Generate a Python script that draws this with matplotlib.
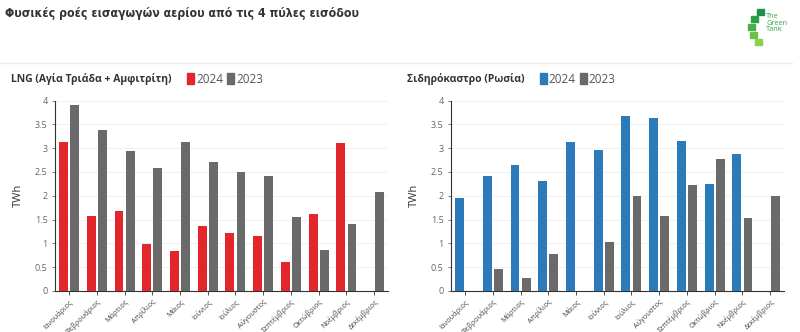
import matplotlib
matplotlib.use("Agg")
import matplotlib.pyplot as plt
import numpy as np
from matplotlib.patches import Rectangle

plt.rcParams['font.family'] = ['Open Sans', 'DejaVu Sans']

months = ["Ιανουάριος", "Φεβρουάριος", "Μάρτιος", "Απρίλιος", "Μάιος", "Ιούνιος",
          "Ιούλιος", "Αύγουστος", "Σεπτέμβριος", "Οκτώβριος", "Νοέμβριος", "Δεκέμβριος"]

# LNG (Agia Triada + Amfitriti), TWh
lng_2024 = [3.12, 1.57, 1.69, 0.99, 0.84, 1.36, 1.21, 1.16, 0.61, 1.62, 3.10, np.nan]
lng_2023 = [3.91, 3.39, 2.95, 2.58, 3.12, 2.71, 2.50, 2.41, 1.55, 0.86, 1.40, 2.07]

# Sidirokastro (Russia), TWh
rus_2024 = [1.95, 2.42, 2.65, 2.32, 3.13, 2.96, 3.68, 3.63, 3.16, 2.24, 2.87, np.nan]
rus_2023 = [0, 0.47, 0.28, 0.77, 0, 1.02, 1.99, 1.58, 2.23, 2.78, 1.53, 2.00]

yticks = [0, 0.5, 1, 1.5, 2, 2.5, 3, 3.5, 4]
ytick_labels = ["0", "0.5", "1", "1.5", "2", "2.5", "3", "3.5", "4"]

RED = "#e3262b"
BLUE = "#2b7bbb"
GRAY = "#6a6a6a"


def draw_panel(ax, v24, v23, c24):
    x = np.arange(len(months))
    ax.bar(x - 0.2, v24, width=0.32, color=c24, zorder=3)
    ax.bar(x + 0.2, v23, width=0.32, color=GRAY, zorder=3)
    ax.set_xlim(-0.5, len(months) - 0.5)
    ax.set_ylim(0, 4)
    ax.set_yticks(yticks)
    ax.set_yticklabels(ytick_labels)
    ax.set_xticks(x)
    ax.set_xticklabels(months, rotation=45, ha="right", rotation_mode="anchor",
                       fontsize=5.2, color="#444444")
    ax.tick_params(axis="y", labelsize=6.5, colors="#666666", length=2, width=0.6)
    ax.tick_params(axis="x", length=3, width=0.6, color="#333333", pad=2)
    ax.grid(axis="y", color="#f2f2f2", linewidth=0.8, zorder=0)
    for s in ["top", "right"]:
        ax.spines[s].set_visible(False)
    ax.spines["left"].set_color("#333333")
    ax.spines["bottom"].set_color("#333333")
    ax.spines["left"].set_linewidth(0.8)
    ax.spines["bottom"].set_linewidth(0.8)
    ax.set_ylabel("TWh", fontsize=8, color="#333333", labelpad=8)


fig = plt.figure(figsize=(8, 3.32), dpi=100)

ax1 = fig.add_axes([0.069, 0.1235, 0.416, 0.5735])
ax2 = fig.add_axes([0.564, 0.1235, 0.416, 0.5735])
draw_panel(ax1, lng_2024, lng_2023, RED)
draw_panel(ax2, rus_2024, rus_2023, BLUE)

# main title (condensed look in the original)
fig.text(0.006, 0.958, "Φυσικές ροές εισαγωγών αερίου από τις 4 πύλες εισόδου",
         fontsize=8.8, fontweight="bold", color="#333333", va="center",
         family=["DejaVu Sans"], fontstretch="condensed")

# divider line
fig.add_artist(plt.Line2D([0.0, 0.99], [0.81, 0.81], color="#eeeeee", linewidth=1))


def panel_title(x0, title, c24, sq_x):
    y = 0.762
    fig.text(x0, y, title, fontsize=7.5, fontweight="bold", color="#333333", va="center")
    for sx, col, lab in [(sq_x, c24, "2024"), (sq_x + 0.05, GRAY, "2023")]:
        fig.add_artist(Rectangle((sx, y - 0.016), 0.009, 0.034, color=col,
                                 transform=fig.transFigure))
        fig.text(sx + 0.011, y, lab, fontsize=8.5, color="#555555", va="center")


panel_title(0.014, "LNG (Αγία Τριάδα + Αμφιτρίτη)", RED, 0.234)
panel_title(0.509, "Σιδηρόκαστρο (Ρωσία)", BLUE, 0.675)

# logo (approximation)
greens = ["#1f8f4e", "#2e9e48", "#49b04a", "#6cc04a", "#8fcf4a"]
pos = [(0.946, 0.955), (0.939, 0.933), (0.935, 0.909), (0.937, 0.885), (0.944, 0.864)]
for (px, py), g in zip(pos, greens):
    fig.add_artist(Rectangle((px, py), 0.009, 0.019, color=g,
                             transform=fig.transFigure))
fig.text(0.958, 0.93, "The\nGreen\nTank", fontsize=5.3, color="#3aa54a",
         va="center", linespacing=0.85)

fig.savefig("out.png", dpi=100, facecolor="white")
